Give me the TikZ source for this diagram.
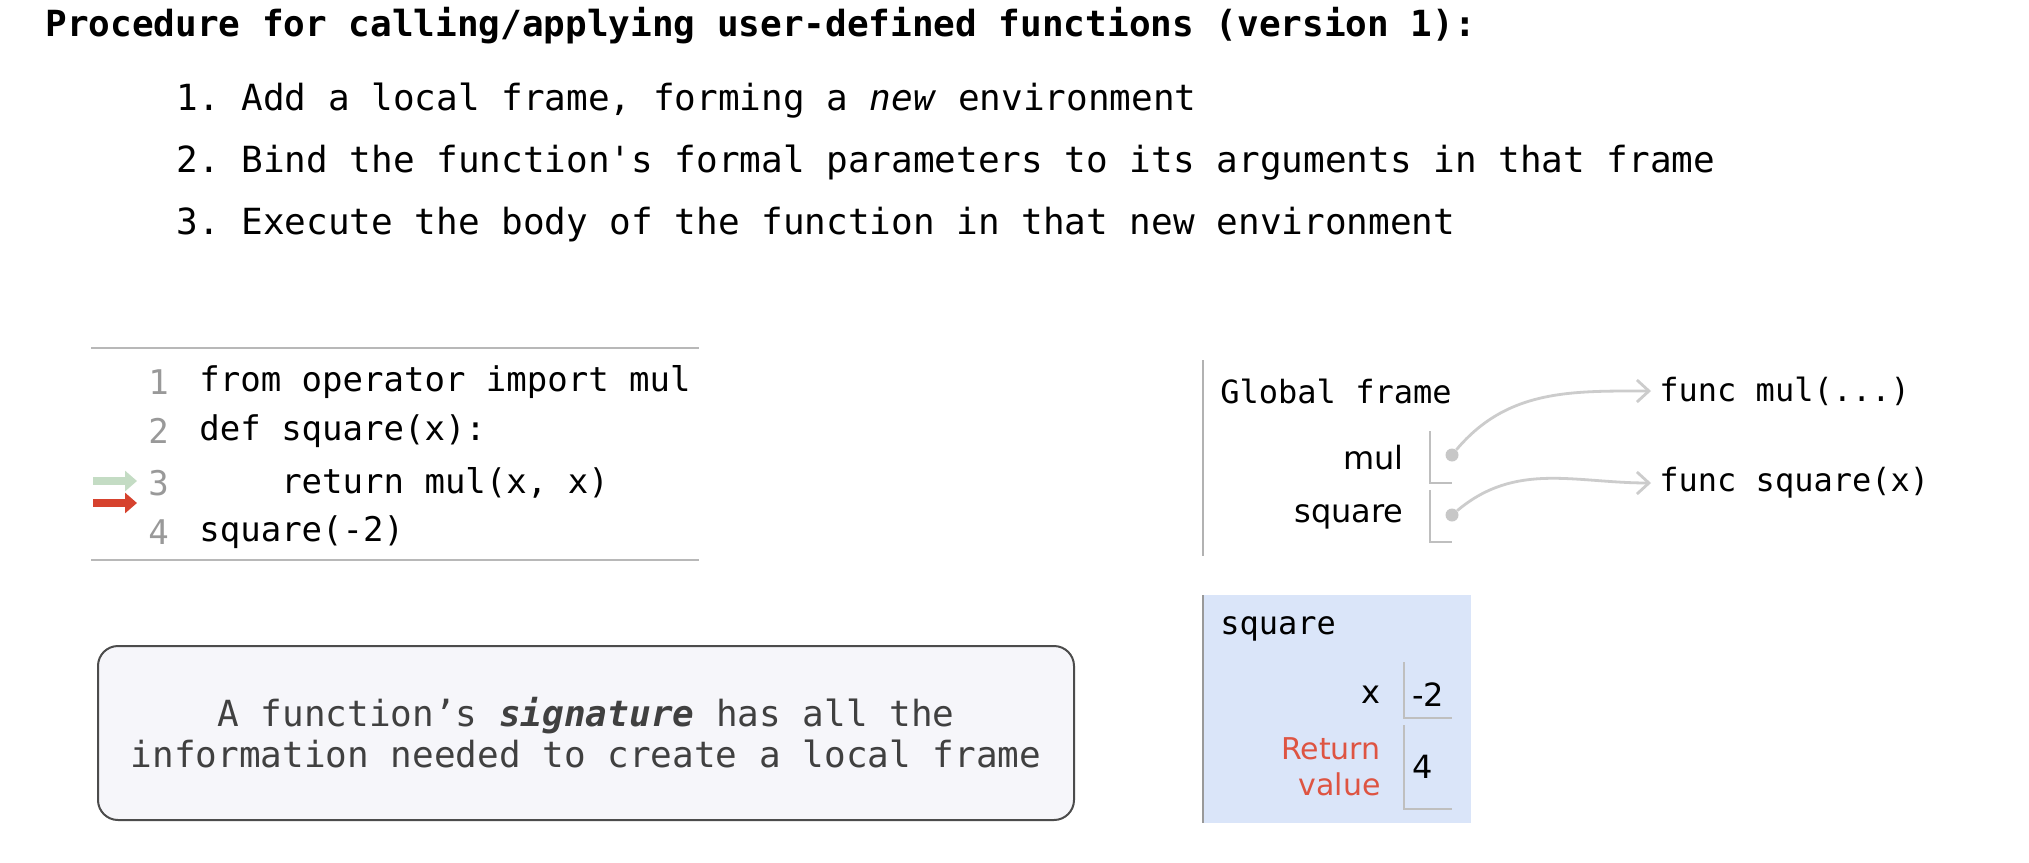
\documentclass[tikz,border=0pt]{standalone}
\usepackage{fontspec}
\setmainfont{DejaVu Sans}
\setsansfont{DejaVu Sans}
\setmonofont{DejaVu Sans Mono}
\usepackage{tikz}
\usetikzlibrary{arrows.meta,positioning}
\definecolor{framebg}{RGB}{218,229,249}
\definecolor{retred}{RGB}{222,84,66}
\definecolor{noteface}{RGB}{246,246,250}
\definecolor{hintgreen}{RGB}{196,220,196}
\definecolor{curred}{RGB}{214,66,46}
\tikzset{
  txt/.style={anchor=west, inner sep=0pt, font=\fontsize{18}{22}\selectfont\ttfamily},
  code/.style={anchor=west, inner sep=0pt, font=\fontsize{17}{20}\selectfont\ttfamily},
  lnum/.style={code, text=black!40},
  hdr/.style={anchor=west, inner sep=0pt, font=\fontsize{16}{19}\selectfont\ttfamily},
  lbl/.style={anchor=east, inner sep=0pt, font=\fontsize{16}{19}\selectfont\sffamily},
  val/.style={anchor=west, inner sep=0pt, font=\fontsize{16}{19}\selectfont\sffamily},
  ptr/.style={-{Straight Barb[length=6pt,width=11pt]}, draw=black!20, line width=1.4pt},
  dot/.style={circle, fill=black!22, inner sep=0pt, minimum size=6.5pt},
  rule/.style={draw=black!28, line width=1pt},
  cellline/.style={draw=black!25, line width=0.8pt},
  linemark/.style={line width=4pt, -{Triangle[length=6pt,width=10pt]}},
  note/.style={draw=black!70, line width=1pt, rounded corners=10pt, fill=noteface,
               minimum width=488pt, minimum height=87pt, align=center, text=black!75,
               font=\fontsize{18}{20.5}\selectfont\ttfamily}
}

\begin{document}
\begin{tikzpicture}[x=0.5pt, y=-0.5pt]
\useasboundingbox (0,0) rectangle (2029,862);
\fill[white] (0,0) rectangle (2029,862);

% heading and steps
\node[txt, font=\fontsize{18}{22}\selectfont\ttfamily\bfseries] (title) at (45,26) {Procedure for calling/applying user-defined functions (version 1):};
\node[txt] (st1) at (176,101) {1. Add a local frame, forming a \textit{new} environment};
\node[txt] (st2) at (176,163) {2. Bind the function's formal parameters to its arguments in that frame};
\node[txt] (st3) at (176,225) {3. Execute the body of the function in that new environment};

% code listing
\draw[rule] (91,348) -- (699,348);
\draw[rule] (91,560) -- (699,560);
\node[lnum] (n1) at (148,382) {1}; \node[code] (c1) at (199,382) {from operator import mul};
\node[lnum] (n2) at (148,431) {2}; \node[code] (c2) at (199,431) {def square(x):};
\node[lnum] (n3) at (148,483) {3}; \node[code] (c3) at (199,483) {\phantom{0000}return mul(x, x)};
\node[lnum] (n4) at (148,532) {4}; \node[code] (c4) at (199,532) {square(-2)};
\coordinate (g0) at (93,481); \coordinate (g1) at (137,481);
\coordinate (r0) at (93,503); \coordinate (r1) at (137,503);
\draw[linemark, hintgreen] (g0) -- (g1);
\draw[linemark, curred] (r0) -- (r1);

% global frame
\draw[rule, draw=black!30] (1203,360) -- (1203,556);
\node[hdr] (gf) at (1220,391) {Global frame};
\node[lbl] (kmul) at (1404,458) {mul};
\node[lbl] (ksq) at (1404,517) {square};
\draw[cellline] (1430,431) -- (1430,483) -- (1452,483);
\draw[cellline] (1430,490) -- (1430,542) -- (1452,542);
\node[dot] (dmul) at (1452,455) {};
\node[dot] (dsq) at (1452,515) {};
\node[hdr] (fmul) at (1659,391) {func mul(...)};
\node[hdr] (fsq) at (1659,483) {func square(x)};
\draw[ptr] (dmul) to[out=50, in=180] ([xshift=-4pt]fmul.west);
\draw[ptr] (dsq) to[out=40, in=180] ([xshift=-4pt]fsq.west);

% local frame for square
\fill[framebg] (1203,595) rectangle (1471,823);
\draw[draw=black!40, line width=1pt] (1203,595) -- (1203,823);
\node[hdr] (lf) at (1220,629) {square};
\node[lbl] (kx) at (1381,695) {x};
\draw[cellline] (1404,662) -- (1404,718) -- (1452,718);
\node[val] (vx) at (1412,695) {-2};
\node[lbl, align=right, text=retred, font=\fontsize{15}{18}\selectfont\sffamily] (kret) at (1381,767) {Return\\value};
\draw[cellline] (1404,725) -- (1404,809) -- (1452,809);
\node[val] (vret) at (1412,767) {4};

% signature note
\node[note] (sig) at (586,733) {A function’s \textbf{\textit{signature}} has all the\\information needed to create a local frame};
\end{tikzpicture}
\end{document}
